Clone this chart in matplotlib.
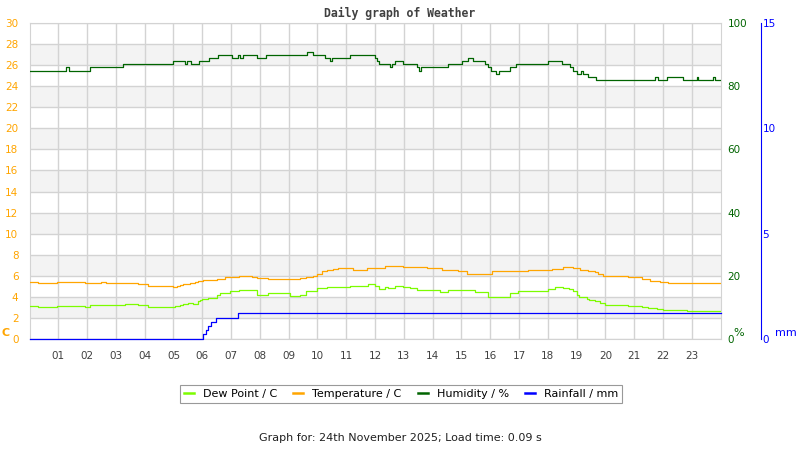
import matplotlib
matplotlib.use("Agg")
import matplotlib.pyplot as plt
from matplotlib.lines import Line2D

# hours of the day
hour_labels = ["%02d" % h for h in range(1, 24)]

# humidity / %  (step changes, hour -> value)
hum_t = [0, 1.27, 1.37, 2.10, 3.25, 4.98, 5.40, 5.47, 5.61, 5.89, 6.23, 6.55,
         7.03, 7.24, 7.31, 7.41, 7.90, 8.21, 9.64, 9.84, 10.26, 10.43, 10.50,
         11.13, 12.00, 12.07, 12.14, 12.52, 12.59, 12.69, 12.97, 13.46, 13.53,
         13.60, 14.53, 15.02, 15.23, 15.40, 15.82, 15.92, 16.02, 16.20, 16.30,
         16.68, 16.89, 18.00, 18.49, 18.77, 18.87, 19.01, 19.15, 19.22, 19.39,
         19.67, 21.72, 21.82, 22.14, 22.69, 23.18, 23.21, 23.73, 23.82, 24]
hum_v = [85, 86, 85, 86, 87, 88, 87, 88, 87, 88, 89, 90,
         89, 90, 89, 90, 89, 90, 91, 90, 89, 88, 89,
         90, 89, 88, 87, 86, 87, 88, 87, 86, 85,
         86, 87, 88, 89, 88, 87, 86, 85, 84, 85,
         86, 87, 88, 87, 86, 85, 84, 85, 84, 83,
         82, 83, 82, 83, 82, 83, 82, 83, 82, 82]

# temperature / C
temp_t = [0, 0.28, 0.95, 1.93, 2.48, 2.65, 3.77, 4.12, 4.98, 5.12, 5.23, 5.33,
          5.57, 5.75, 5.85, 6.02, 6.51, 6.79, 7.27, 7.73, 7.90, 8.28, 9.39,
          9.62, 9.84, 9.98, 10.16, 10.33, 10.54, 10.71, 11.23, 11.72, 12.34,
          12.97, 13.80, 14.32, 14.88, 15.19, 16.06, 17.31, 18.14, 18.52, 18.87,
          19.11, 19.39, 19.64, 19.74, 19.91, 20.78, 21.27, 21.55, 21.89, 22.18, 24]
temp_v = [5.4, 5.3, 5.4, 5.3, 5.4, 5.3, 5.2, 5.0, 4.9, 5.0, 5.1, 5.2,
          5.3, 5.4, 5.5, 5.6, 5.7, 5.9, 6.0, 5.9, 5.8, 5.7, 5.8,
          5.9, 6.0, 6.2, 6.4, 6.5, 6.6, 6.7, 6.5, 6.7, 6.9,
          6.8, 6.7, 6.5, 6.4, 6.2, 6.4, 6.5, 6.6, 6.8, 6.7,
          6.5, 6.4, 6.3, 6.2, 6.0, 5.9, 5.7, 5.5, 5.4, 5.3, 5.3]

# dew point / C
dew_t = [0, 0.28, 0.95, 1.93, 2.10, 3.32, 3.77, 4.12, 5.05, 5.23, 5.33, 5.50,
         5.68, 5.85, 5.92, 5.99, 6.20, 6.51, 6.61, 6.96, 7.27, 7.90, 8.28,
         9.05, 9.39, 9.62, 9.98, 10.33, 11.13, 11.75, 12.00, 12.14, 12.34,
         12.45, 12.69, 12.97, 13.21, 13.46, 14.25, 14.53, 15.47, 15.92, 16.44,
         16.68, 16.96, 18.00, 18.25, 18.52, 18.73, 18.87, 19.01, 19.08, 19.36,
         19.43, 19.64, 19.81, 19.98, 20.78, 21.27, 21.48, 21.78, 21.99, 22.83, 24]
dew_v = [3.1, 3.0, 3.1, 3.0, 3.2, 3.3, 3.2, 3.0, 3.1, 3.2, 3.3, 3.4,
         3.3, 3.6, 3.7, 3.8, 3.9, 4.2, 4.3, 4.5, 4.6, 4.2, 4.3,
         4.1, 4.2, 4.5, 4.8, 4.9, 5.0, 5.2, 5.0, 4.7, 4.9,
         4.8, 5.0, 4.9, 4.8, 4.6, 4.4, 4.6, 4.4, 4.0, 4.0,
         4.3, 4.5, 4.7, 4.9, 4.8, 4.7, 4.5, 4.2, 4.0, 3.8,
         3.7, 3.6, 3.4, 3.2, 3.1, 3.0, 2.9, 2.8, 2.7, 2.6, 2.6]

# rainfall / mm
rain_t = [0, 6.03, 6.13, 6.21, 6.29, 6.48, 7.25, 24]
rain_v = [0, 0.2, 0.4, 0.6, 0.8, 1.0, 1.2, 1.2]

c_dew = "#7cfc00"
c_temp = "#ffa500"
c_hum = "#006400"
c_rain = "#0000ff"
c_grid = "#d3d3d3"

fig = plt.figure(figsize=(8, 4.5), dpi=100)
ax = fig.add_axes([29.5 / 800, 1 - 338.7 / 450, 691 / 800, 315.4 / 450])
ax.set_xlim(0, 24)
ax.set_ylim(0, 30)

for lo in range(2, 28, 4):
    ax.axhspan(lo, lo + 2, color="#f3f3f3", zorder=0, lw=0)

ax.set_xticks(range(1, 24))
ax.set_xticklabels(hour_labels)
ax.set_yticks(range(0, 31, 2))
ax.grid(True, color=c_grid, lw=1)
ax.set_axisbelow(True)
ax.tick_params(axis="x", length=0, pad=9, labelsize=7.5, labelcolor="#404040")
ax.tick_params(axis="y", length=0, pad=8, labelsize=7.5, labelcolor=c_temp)
for s in ax.spines.values():
    s.set_color(c_grid)

ax.step(dew_t, dew_v, where="post", color=c_dew, lw=0.9, zorder=3)
ax.step(temp_t, temp_v, where="post", color=c_temp, lw=0.9, zorder=3)

# humidity axis
ax_h = ax.twinx()
ax_h.set_ylim(0, 100)
ax_h.set_yticks(range(0, 101, 20))
ax_h.tick_params(axis="y", length=0, pad=5, labelsize=7.5, labelcolor=c_hum)
for s in ax_h.spines.values():
    s.set_visible(False)
ax_h.step(hum_t, hum_v, where="post", color=c_hum, lw=0.9)

# rainfall axis, 40 px right of the plot
ax_r = ax.twinx()
ax_r.set_ylim(0, 15)
ax_r.set_yticks([0, 5, 10, 15])
ax_r.spines["right"].set_position(("outward", 40 * 72 / 100))
ax_r.spines["right"].set_color(c_rain)
for k in ["left", "top", "bottom"]:
    ax_r.spines[k].set_visible(False)
ax_r.tick_params(axis="y", length=0, pad=1.5, labelsize=7.5, labelcolor=c_rain)
ax_r.step(rain_t, rain_v, where="post", color=c_rain, lw=0.9, clip_on=False)

# unit labels
fig.text(5.7 / 800, 1 - 333 / 450, "C", color=c_temp, fontsize=8, weight="bold",
         ha="center", va="center")
fig.text(739 / 800, 1 - 333 / 450, "%", color=c_hum, fontsize=8,
         ha="center", va="center")
fig.text(786 / 800, 1 - 333 / 450, "mm", color=c_rain, fontsize=8,
         ha="center", va="center")

fig.text(0.5, 1 - 13 / 450, "Daily graph of Weather", family="DejaVu Sans Mono",
         weight="bold", fontsize=8.3, color="#404040", ha="center", va="center")

handles = [Line2D([], [], color=c, lw=1.8) for c in [c_dew, c_temp, c_hum, c_rain]]
labels = ["Dew Point / C", "Temperature / C", "Humidity / %", "Rainfall / mm"]
leg = fig.legend(handles, labels, loc="center", bbox_to_anchor=(401 / 800, 1 - 394 / 450),
                 ncol=4, fontsize=8, frameon=True, fancybox=False, edgecolor="#808080",
                 handlelength=0.9, handletextpad=0.8, columnspacing=1.45, borderpad=0.4)
leg.get_frame().set_linewidth(0.8)

fig.text(400 / 800, 1 - 438 / 450, "Graph for: 24th November 2025; Load time: 0.09 s",
         fontsize=8, color="#202020", ha="center", va="center")

fig.savefig("out.png", dpi=100)
